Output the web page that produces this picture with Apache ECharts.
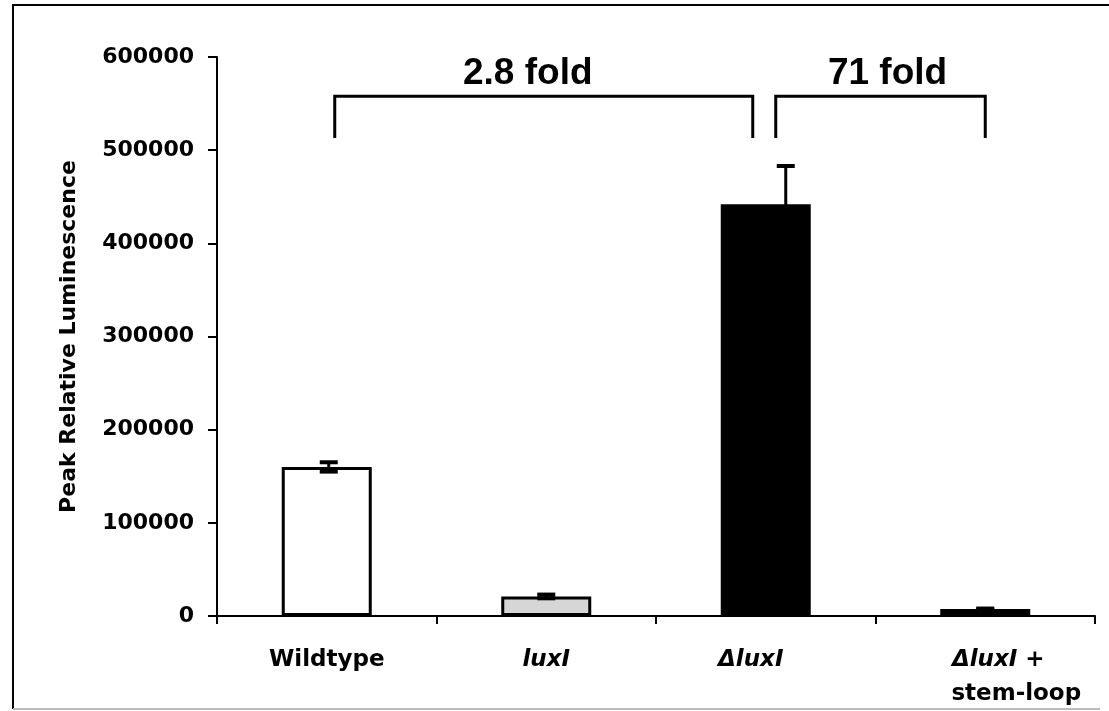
<!DOCTYPE html>
<html>
<head>
<meta charset="utf-8">
<script src="https://cdn.jsdelivr.net/npm/echarts@6/dist/echarts.min.js"></script>
<style>
  html, body { margin: 0; padding: 0; background: #fff; }
  #chart { width: 1109px; height: 711px; }
</style>
</head>
<body>
<div id="chart"></div>
<script>
// ---- data ----
const categories = ['Wildtype', 'luxI', 'ΔluxI', 'ΔluxI + stem-loop'];
const values = [160000, 21000, 442000, 7500];
const errors = [5000, 2000, 41000, 500];
const yTickMin = 0;
const yTickMax = 600000;
const yTickStep = 100000;
const yAxisTitle = 'Peak Relative Luminescence';
const bracketFrom = [0, 2];
const bracketTo = [2, 3];
const bracketLabels = ['2.8 fold', '71 fold'];
const bracketTopValue = 558000;
const bracketLegValue = 513000;

// ---- styles ----
const FONT = '"DejaVu Sans", sans-serif';
const barStyles = [
  { color: '#ffffff', borderColor: '#000', borderWidth: 3 },
  { color: '#d6d6d6', borderColor: '#000', borderWidth: 3 },
  { color: '#000000', borderColor: '#000', borderWidth: 0 },
  { color: '#000000', borderColor: '#000', borderWidth: 0 }
];
const ERR_SHIFT = [2, 0, 20, 0];
const BRACKET_LEG_SHIFT = [[8, -13], [10, 0]];
const BRACKET_TEXT_SHIFT = [-16, 7];

const chart = echarts.init(document.getElementById('chart'), null, { renderer: 'canvas' });

const option = {
  animation: false,
  backgroundColor: '#ffffff',
  grid: { left: 217, right: 14, top: 57, bottom: 95, containLabel: false },
  xAxis: {
    type: 'category',
    data: categories,
    boundaryGap: true,
    axisLine: { lineStyle: { color: '#000', width: 2 } },
    axisTick: { show: true, length: 8, lineStyle: { color: '#000', width: 2 }, alignWithLabel: false },
    axisLabel: {
      interval: 0,
      margin: 27,
      color: '#000',
      fontFamily: FONT,
      fontWeight: 'bold',
      fontSize: 23,
      lineHeight: 34,
      formatter: function (v, i) {
        if (i === 0) return 'Wildtype';
        if (i === 1) return '{i|luxI}';
        if (i === 2) return '{i|ΔluxI}{pr| }';
        return '{pl1| }{i|ΔluxI} +\n{pl2| }stem-loop';
      },
      rich: {
        i: { fontStyle: 'italic', fontWeight: 'bold', fontFamily: FONT, fontSize: 23, color: '#000', lineHeight: 34 },
        pr: { width: 30, fontSize: 23, lineHeight: 34 },
        pl1: { width: 26, fontSize: 23, lineHeight: 34 },
        pl2: { width: 62, fontSize: 23, lineHeight: 34 }
      }
    },
    splitLine: { show: false }
  },
  yAxis: {
    type: 'value',
    min: yTickMin,
    max: yTickMax,
    interval: yTickStep,
    name: yAxisTitle,
    nameLocation: 'middle',
    nameGap: 137,
    nameTextStyle: { color: '#000', fontFamily: FONT, fontWeight: 'bold', fontSize: 22 },
    axisLine: { show: true, lineStyle: { color: '#000', width: 2 } },
    axisTick: { show: true, length: 9, lineStyle: { color: '#000', width: 2 } },
    axisLabel: { margin: 23, color: '#000', fontFamily: FONT, fontWeight: 'bold', fontSize: 22,
      formatter: function (v) { return String(v); } },
    splitLine: { show: false }
  },
  series: [
    {
      type: 'bar',
      barWidth: 90,
      data: values.map(function (v, i) { return { value: v, itemStyle: barStyles[i] }; }),
      z: 2
    },
    {
      type: 'custom',
      z: 3,
      clip: false,
      data: values.map(function (v, i) { return [i, v, errors[i]]; }),
      renderItem: function (params, api) {
        const i = api.value(0), v = api.value(1), e = api.value(2);
        const hi = api.coord([i, v + e]);
        const lo = api.coord([i, v - e]);
        const x = hi[0] + ERR_SHIFT[i];
        const cap = 9;
        return {
          type: 'group',
          children: [
            { type: 'line', shape: { x1: x, y1: hi[1], x2: x, y2: lo[1] }, style: { stroke: '#000', lineWidth: 3 } },
            { type: 'line', shape: { x1: x - cap, y1: hi[1], x2: x + cap, y2: hi[1] }, style: { stroke: '#000', lineWidth: 4 } },
            { type: 'line', shape: { x1: x - cap, y1: lo[1], x2: x + cap, y2: lo[1] }, style: { stroke: '#000', lineWidth: 4 } }
          ]
        };
      }
    },
    {
      type: 'custom',
      z: 4,
      clip: false,
      data: bracketFrom.map(function (f, k) { return [f, bracketTo[k], k]; }),
      renderItem: function (params, api) {
        const f = api.value(0), t = api.value(1), k = api.value(2);
        const a = api.coord([f, bracketTopValue]);
        const b = api.coord([t, bracketTopValue]);
        const legY = api.coord([f, bracketLegValue])[1];
        const x0 = a[0] + BRACKET_LEG_SHIFT[k][0];
        const x1 = b[0] + BRACKET_LEG_SHIFT[k][1];
        const yTop = a[1];
        return {
          type: 'group',
          children: [
            { type: 'polyline', shape: { points: [[x0, legY], [x0, yTop], [x1, yTop], [x1, legY]] },
              style: { stroke: '#000', lineWidth: 3, fill: null } },
            { type: 'text', style: { text: bracketLabels[k], x: (x0 + x1) / 2 + BRACKET_TEXT_SHIFT[k], y: yTop - 4,
              align: 'center', verticalAlign: 'bottom', fill: '#000',
              font: 'bold 37px "Liberation Sans", Arial, sans-serif' } }
          ]
        };
      }
    }
  ],
  graphic: [
    { type: 'polyline', shape: { points: [[13, 709], [13, 5], [1109, 5]] }, style: { stroke: '#000', lineWidth: 2, fill: null }, silent: true },
    { type: 'line', shape: { x1: 13, y1: 709, x2: 1100, y2: 709 }, style: { stroke: '#bbbbbb', lineWidth: 2 }, silent: true }
  ]
};
chart.setOption(option);
</script>
</body>
</html>
